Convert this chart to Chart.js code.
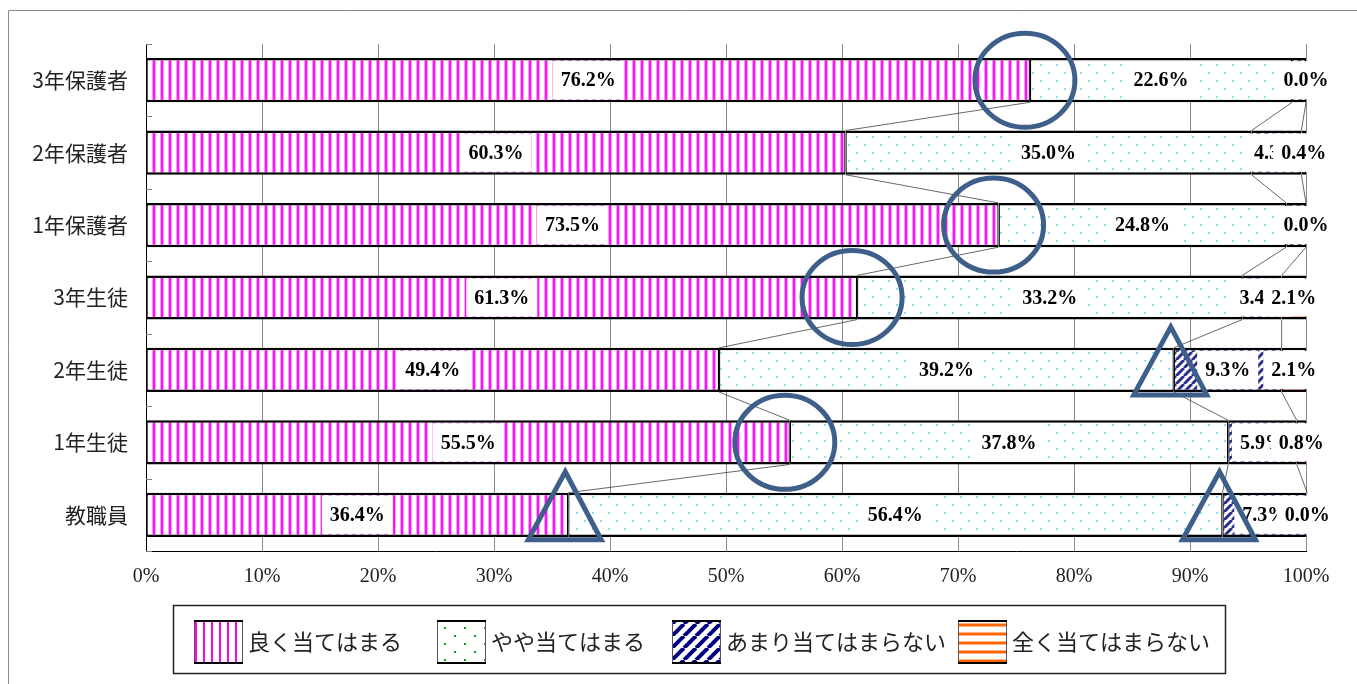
<!DOCTYPE html>
<html><head><meta charset="utf-8">
<script src="https://cdn.jsdelivr.net/npm/chart.js@4.4.1/dist/chart.umd.min.js"></script>
<style>html,body{margin:0;padding:0;background:#fff;overflow:hidden}canvas{display:block}</style>
</head><body>
<canvas id="c" width="1357" height="684"></canvas>
<script>
// ---- data ----
const categories = ['3年保護者','2年保護者','1年保護者','3年生徒','2年生徒','1年生徒','教職員'];
const seriesNames = ['良く当てはまる','やや当てはまる','あまり当てはまらない','全く当てはまらない'];
const goodValues     = [76.2, 60.3, 73.5, 61.3, 49.4, 55.5, 36.4];
const fairValues     = [22.6, 35.0, 24.8, 33.2, 39.2, 37.8, 56.4];
const notMuchValues  = [1.2, 4.3, 1.7, 3.4, 9.3, 5.9, 7.3];
const notAtAllValues = [0.0, 0.4, 0.0, 2.1, 2.1, 0.8, 0.0];
const xTickValues = [0,10,20,30,40,50,60,70,80,90,100];
// annotation marks: [category, boundary after series index]
const circleMarks = [['3年保護者',0],['1年保護者',0],['3年生徒',0],['1年生徒',0]];
const triangleMarks = [['2年生徒',1],['教職員',0],['教職員',1]];

// ---- patterns ----
const canvas = document.getElementById('c');
const ctx = canvas.getContext('2d');
function tile(w,h,draw){const c=document.createElement('canvas');c.width=w;c.height=h;const t=c.getContext('2d');t.fillStyle='#fff';t.fillRect(0,0,w,h);draw(t,w,h);return ctx.createPattern(c,'repeat');}
const pMagenta = tile(8,8,(t)=>{t.fillStyle='#ff9cff';t.fillRect(0,0,1,8);t.fillRect(3,0,1,8);t.fillStyle='#ff10ff';t.fillRect(1,0,2,8);});
const pDots = tile(16,16,(t)=>{t.fillStyle='#8ee0e8';t.fillRect(0,0,2,2);t.fillRect(8,8,2,2);});
const pNavy = tile(8,8,(t)=>{t.strokeStyle='#2c2c8e';t.lineWidth=3;for(let k=-8;k<=16;k+=8){t.beginPath();t.moveTo(k-8,8);t.lineTo(k,0);t.stroke();}});
const pOrange = tile(8,8,(t)=>{t.fillStyle='#ffa080';t.fillRect(0,2,8,1);t.fillRect(0,5,8,1);t.fillStyle='#ff4a20';t.fillRect(0,3,8,2);});
// legend variants
const lMagenta = tile(8,8,(t)=>{t.fillStyle='#ff00ff';t.fillRect(3,0,2,8);});
const lDots = tile(20,16,(t)=>{t.fillStyle='#1a9a1a';t.fillRect(4,3,2,2);t.fillRect(14,11,2,2);});
const lNavy = tile(12,12,(t)=>{t.strokeStyle='#000080';t.lineWidth=4;for(let k=-12;k<=24;k+=12){t.beginPath();t.moveTo(k-12,12);t.lineTo(k,0);t.stroke();}});
const lOrange = tile(9,9,(t)=>{t.fillStyle='#ffb080';t.fillRect(0,2,9,1);t.fillRect(0,5,9,1);t.fillStyle='#ff6600';t.fillRect(0,3,9,2);});

const barPatterns = [pMagenta,pDots,pNavy,pOrange];
const legendPatterns = [lMagenta,lDots,lNavy,lOrange];
const seriesData = [goodValues,fairValues,notMuchValues,notAtAllValues];

const datasets = seriesData.map((d,i)=>({
  label: seriesNames[i], data: d, backgroundColor: barPatterns[i],
  borderColor:'#000', borderWidth:{top:2.5,bottom:2.5,left:1.3,right:1.3}, borderSkipped:false,
  barPercentage:0.61, categoryPercentage:1
}));

const bgPlugin = {id:'bg', beforeDraw(c){const g=c.ctx;g.save();g.fillStyle='#fff';g.fillRect(0,0,c.width,c.height);g.restore();}};

const overlayPlugin = {id:'overlay', afterDatasetsDraw(c){
  const g=c.ctx, ys=c.scales.y, area=c.chartArea;
  g.save();
  // inside tick marks on category axis
  g.strokeStyle='#808080'; g.lineWidth=1;
  const n=categories.length;
  for(let k=0;k<=n;k++){
    let y;
    if(k===0) y=area.top; else if(k===n) y=area.bottom;
    else y=(ys.getPixelForValue(k-1)+ys.getPixelForValue(k))/2;
    y=Math.round(y)+0.5;
    g.beginPath(); g.moveTo(area.left,y); g.lineTo(area.left+6,y); g.stroke();
  }
  // series lines
  g.strokeStyle='#404040'; g.lineWidth=0.8;
  for(let s=0;s<3;s++){
    const meta=c.getDatasetMeta(s);
    for(let i=0;i<n-1;i++){
      const a=meta.data[i], b=meta.data[i+1];
      g.beginPath(); g.moveTo(a.x, a.y+a.height/2); g.lineTo(b.x, b.y-b.height/2); g.stroke();
    }
  }
  // data labels
  g.font='bold 20px "Liberation Serif", serif';
  g.textAlign='center'; g.textBaseline='middle';
  for(let s=0;s<4;s++){
    const meta=c.getDatasetMeta(s);
    seriesData[s].forEach((v,i)=>{
      if(s===2 && v<2) return;
      const el=meta.data[i];
      const cx=(el.x+el.base)/2, cy=el.y;
      const txt=v.toFixed(1)+'%';
      const w=g.measureText(txt).width+16, h=el.height-6;
      g.fillStyle='#fff'; g.fillRect(cx-w/2, cy-h/2, w, h);
      g.fillStyle='#000'; g.fillText(txt, cx, cy+1);
    });
  }
  // annotations
  g.strokeStyle='#3f5f8b'; g.lineWidth=5; g.lineJoin='miter';
  circleMarks.forEach(([cat,s])=>{
    const i=categories.indexOf(cat); const el=c.getDatasetMeta(s).data[i];
    g.beginPath(); g.ellipse(el.x-5, el.y, 50, 47, 0, 0, Math.PI*2); g.stroke();
  });
  triangleMarks.forEach(([cat,s])=>{
    const i=categories.indexOf(cat); const el=c.getDatasetMeta(s).data[i];
    const x=el.x-3, y=el.y;
    g.beginPath(); g.moveTo(x, y-43); g.lineTo(x+36, y+25); g.lineTo(x-37, y+25); g.closePath(); g.stroke();
  });
  g.restore();
}};

const legendPlugin = {id:'customLegend', afterDraw(c){
  const g=c.ctx; g.save();
  // outer chart border
  g.strokeStyle='#8a8a8a'; g.lineWidth=1;
  g.beginPath(); g.moveTo(8.5,684); g.lineTo(8.5,10.5); g.lineTo(1357,10.5); g.stroke();
  // legend frame
  g.strokeStyle='#222'; g.lineWidth=1.5;
  g.strokeRect(173.5,605.5,1052,68);
  const xs=[194,437,672,958];
  g.font='22px "Noto Sans CJK JP", sans-serif'; g.textBaseline='middle'; g.textAlign='left';
  seriesNames.forEach((name,i)=>{
    const x=xs[i], y=620;
    g.fillStyle=legendPatterns[i]; g.fillRect(x,y,49,44);
    g.strokeStyle='#555'; g.lineWidth=1; g.strokeRect(x+0.5,y+0.5,48,43);
    g.strokeStyle='#000'; g.lineWidth=2;
    g.beginPath(); g.moveTo(x,y+1); g.lineTo(x+49,y+1); g.moveTo(x,y+43); g.lineTo(x+49,y+43); g.stroke();
    g.fillStyle='#222'; g.fillText(name, x+54, 642);
  });
  g.restore();
}};

new Chart(ctx,{
  type:'bar',
  data:{labels:categories, datasets},
  options:{
    indexAxis:'y', responsive:false, animation:false, devicePixelRatio:1,
    layout:{padding:{top:44,right:51,left:0,bottom:0}},
    plugins:{legend:{display:false}, tooltip:{enabled:false}},
    scales:{
      x:{stacked:true, min:0, max:100,
        afterFit(s){s.height=133;},
        afterBuildTicks(s){s.ticks=xTickValues.map(v=>({value:v}));},
        ticks:{callback:v=>v+'%', padding:14, autoSkip:false, maxRotation:0,
          font:{family:'"Liberation Serif", serif', size:20}, color:'#222'},
        grid:{color:'#8a8a8a', lineWidth:1, drawTicks:false},
        border:{color:'#000', width:1}},
      y:{stacked:true,
        afterFit(s){s.width=146;},
        ticks:{padding:18, font:{family:'"Noto Sans CJK JP", sans-serif', size:21}, color:'#222'},
        grid:{drawOnChartArea:false, drawTicks:false},
        border:{display:true, color:'#000', width:1}}
    }
  },
  plugins:[bgPlugin, overlayPlugin, legendPlugin]
});
</script>
</body></html>
